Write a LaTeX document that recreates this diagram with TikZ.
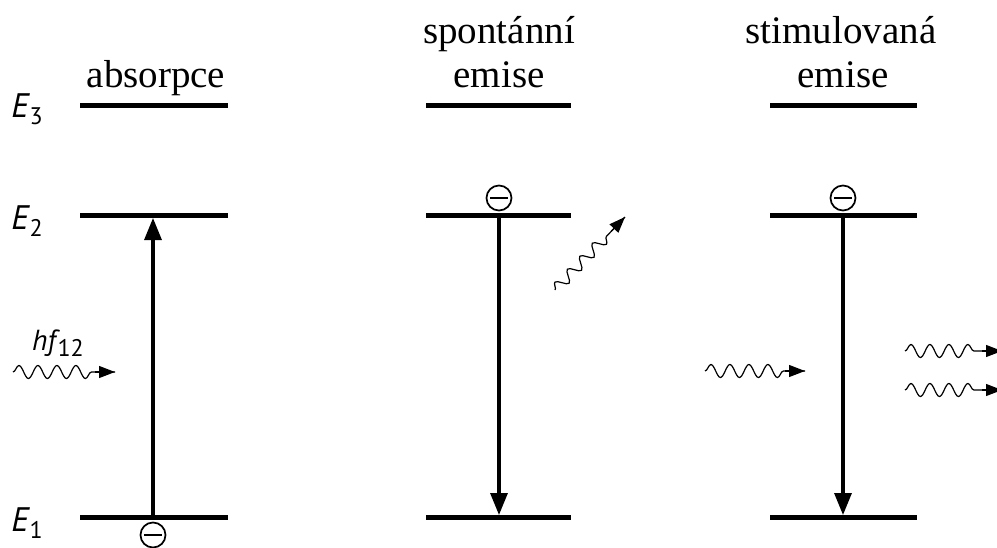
\documentclass[tikz,border=0pt]{standalone}
\usepackage{fontspec}
\setmainfont{Liberation Serif}
\newfontfamily\lblfont{PT Sans}
\usetikzlibrary{arrows.meta,decorations.pathmorphing,calc}
\newcommand\lowsub[2]{\raisebox{-#1}{\upshape\fontsize{24}{24}\selectfont #2}}
\begin{document}
\begin{tikzpicture}[x=1pt,y=-1pt,
  level/.style={line width=5pt},
  trans/.style={line width=3.2pt,-{Triangle[length=22pt,width=17pt]}},
  phtip/.style={-{Triangle[length=16pt,width=12pt]},line width=1.2pt},
  wave/.style={line width=1.2pt,decorate,decoration={snake,amplitude=6.5pt,segment length=19pt,post length=20pt}},
  elec/.style={circle,draw,line width=1.7pt,minimum size=25pt,inner sep=0pt,
     path picture={\draw[line width=2pt] ([xshift=-9pt]path picture bounding box.center) -- ([xshift=9pt]path picture bounding box.center);}},
  title/.style={font=\fontsize{39}{40}\selectfont,anchor=base},
  elab/.style={font=\lblfont\itshape\fontsize{34}{36}\selectfont}
]
\useasboundingbox (0,0) rectangle (997,547);
% levels
\foreach \c/\a/\b in {1/80/228,2/426/571,3/770/917}{
  \draw[level] (\a,105) coordinate (L3\c) -- (\b,105);
  \draw[level] (\a,215) coordinate (L2\c) -- (\b,215);
  \draw[level] (\a,517) coordinate (L1\c) -- (\b,517);
}
% energy labels
\node[elab] (E3) at (27,109) {E\kern1pt\lowsub{7pt}{3}};
\node[elab] (E2) at (27,221) {E\kern1pt\lowsub{7pt}{2}};
\node[elab] (E1) at (27,523) {E\kern1pt\lowsub{7pt}{1}};
% titles
\node[title] (t1) at (156,87) {absorpce};
\node[title] (t2a) at (499,43) {spontánní};
\node[title] (t2b) at (499,87) {emise};
\node[title] (t3a) at (841,43) {stimulovaná};
\node[title] (t3b) at (843,87) {emise};
% column 1 : absorption
\coordinate (a1) at (153,517);
\coordinate (a2) at (153,218);
\draw[trans] (a1) -- (a2);
\node[elec,fill=white] (e1) at (153,535) {};
\coordinate (p1s) at (13,372);
\coordinate (p1e) at (115,372);
\draw[wave] (p1s) -- (p1e);
\draw[phtip] (95,372) -- (p1e);
\node[font=\lblfont\itshape\fontsize{29}{30}\selectfont] (hf) at (58,343) {hf\kern2pt\lowsub{6pt}{12}};
% column 2 : spontaneous emission
\node[elec] (e2) at (499,198) {};
\coordinate (b1) at (499,213);
\coordinate (b2) at (499,515);
\draw[trans] (b1) -- (b2);
\coordinate (p2s) at (555,290);
\coordinate (p2e) at (625,217);
\draw[wave,decoration={amplitude=5.5pt,segment length=18pt,post length=18pt}] (p2s) -- (p2e);
\draw[phtip] ($(p2s)!0.8!(p2e)$) -- (p2e);
% column 3 : stimulated emission
\node[elec] (e3) at (843,198) {};
\coordinate (c1) at (843,213);
\coordinate (c2) at (843,515);
\draw[trans] (c1) -- (c2);
\coordinate (p3s) at (705,371);
\coordinate (p3e) at (805,371);
\draw[wave] (p3s) -- (p3e);
\draw[phtip] (785,371) -- (p3e);
\coordinate (p4s) at (905,351);
\coordinate (p4e) at (1002,351);
\draw[wave] (p4s) -- (p4e);
\draw[phtip] (982,351) -- (p4e);
\coordinate (p5s) at (905,390);
\coordinate (p5e) at (1002,390);
\draw[wave] (p5s) -- (p5e);
\draw[phtip] (982,390) -- (p5e);
\end{tikzpicture}
\end{document}
